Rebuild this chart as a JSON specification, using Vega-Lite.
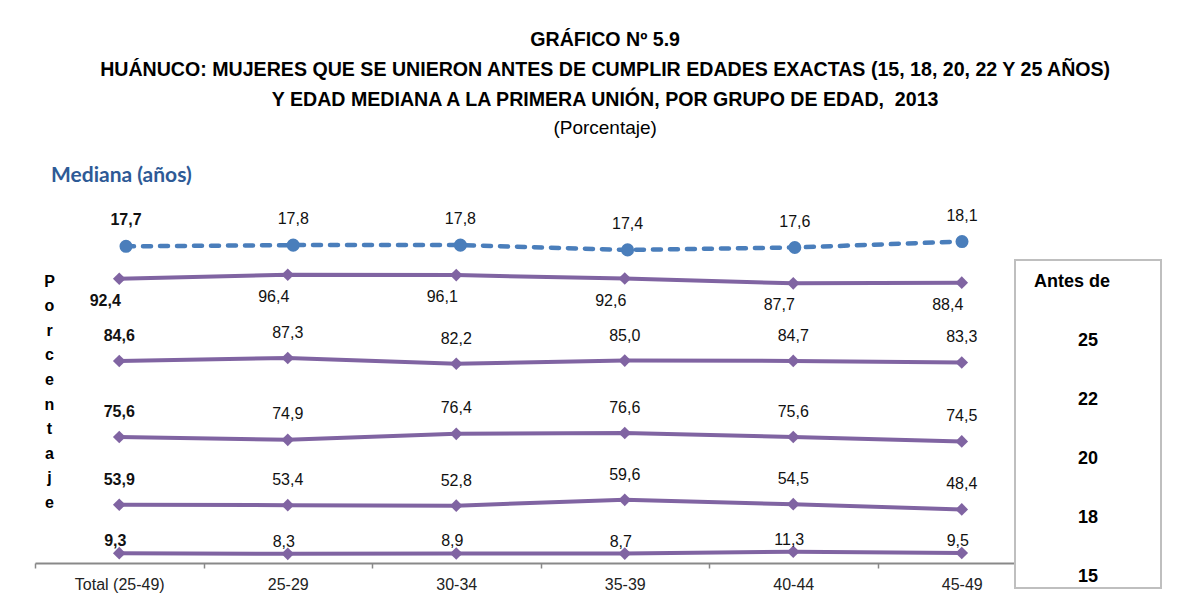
{
  "$schema": "https://vega.github.io/schema/vega-lite/v6.json",
  "background": "white",
  "padding": {"left": 34, "top": 30, "right": 10, "bottom": 10},
  "datasets": {
    "datos": [
      {"grupo": "Total (25-49)", "serie": "Mediana", "valor": 17.7},
      {"grupo": "25-29", "serie": "Mediana", "valor": 17.8},
      {"grupo": "30-34", "serie": "Mediana", "valor": 17.8},
      {"grupo": "35-39", "serie": "Mediana", "valor": 17.4},
      {"grupo": "40-44", "serie": "Mediana", "valor": 17.6},
      {"grupo": "45-49", "serie": "Mediana", "valor": 18.1},
      {"grupo": "Total (25-49)", "serie": "25", "valor": 92.4},
      {"grupo": "25-29", "serie": "25", "valor": 96.4},
      {"grupo": "30-34", "serie": "25", "valor": 96.1},
      {"grupo": "35-39", "serie": "25", "valor": 92.6},
      {"grupo": "40-44", "serie": "25", "valor": 87.7},
      {"grupo": "45-49", "serie": "25", "valor": 88.4},
      {"grupo": "Total (25-49)", "serie": "22", "valor": 84.6},
      {"grupo": "25-29", "serie": "22", "valor": 87.3},
      {"grupo": "30-34", "serie": "22", "valor": 82.2},
      {"grupo": "35-39", "serie": "22", "valor": 85.0},
      {"grupo": "40-44", "serie": "22", "valor": 84.7},
      {"grupo": "45-49", "serie": "22", "valor": 83.3},
      {"grupo": "Total (25-49)", "serie": "20", "valor": 75.6},
      {"grupo": "25-29", "serie": "20", "valor": 74.9},
      {"grupo": "30-34", "serie": "20", "valor": 76.4},
      {"grupo": "35-39", "serie": "20", "valor": 76.6},
      {"grupo": "40-44", "serie": "20", "valor": 75.6},
      {"grupo": "45-49", "serie": "20", "valor": 74.5},
      {"grupo": "Total (25-49)", "serie": "18", "valor": 53.9},
      {"grupo": "25-29", "serie": "18", "valor": 53.4},
      {"grupo": "30-34", "serie": "18", "valor": 52.8},
      {"grupo": "35-39", "serie": "18", "valor": 59.6},
      {"grupo": "40-44", "serie": "18", "valor": 54.5},
      {"grupo": "45-49", "serie": "18", "valor": 48.4},
      {"grupo": "Total (25-49)", "serie": "15", "valor": 9.3},
      {"grupo": "25-29", "serie": "15", "valor": 8.3},
      {"grupo": "30-34", "serie": "15", "valor": 8.9},
      {"grupo": "35-39", "serie": "15", "valor": 8.7},
      {"grupo": "40-44", "serie": "15", "valor": 11.3},
      {"grupo": "45-49", "serie": "15", "valor": 9.5}
    ],
    "leyenda": [
      {"etiqueta": "Antes de"},
      {"etiqueta": "25"},
      {"etiqueta": "22"},
      {"etiqueta": "20"},
      {"etiqueta": "18"},
      {"etiqueta": "15"}
    ]
  },
  "data": {"name": "datos"},
  "title": {
    "text": [
      "GRÁFICO Nº 5.9",
      "HUÁNUCO: MUJERES QUE SE UNIERON ANTES DE CUMPLIR EDADES EXACTAS (15, 18, 20, 22 Y 25 AÑOS)",
      "Y EDAD MEDIANA A LA PRIMERA UNIÓN, POR GRUPO DE EDAD, \u00a02013"
    ],
    "subtitle": "(Porcentaje)",
    "anchor": "middle",
    "dx": 7,
    "offset": 26,
    "font": "Liberation Sans, Arial, sans-serif",
    "fontSize": 19.6,
    "fontWeight": "bold",
    "lineHeight": 30,
    "color": "#000000",
    "subtitleFont": "Liberation Sans, Arial, sans-serif",
    "subtitleFontSize": 19,
    "subtitleFontWeight": "normal",
    "subtitleColor": "#000000",
    "subtitlePadding": 8
  },
  "spacing": 0,
  "bounds": "flush",
  "vconcat": [
    {
      "width": 980,
      "height": 60,
      "title": {
        "text": "Mediana (años)",
        "anchor": "start",
        "dx": 16,
        "offset": 14,
        "font": "Lato, Carlito, Calibri, sans-serif",
        "fontSize": 21,
        "fontWeight": "bold",
        "color": "#2e5a96"
      },
      "transform": [{"filter": "datum.serie === 'Mediana'"}],
      "encoding": {
        "x": {
          "field": "grupo",
          "type": "nominal",
          "scale": {"type": "point", "domain": ["Total (25-49)", "25-29", "30-34", "35-39", "40-44", "45-49"], "range": [91, 927], "padding": 0},
          "axis": null
        },
        "y": {
          "field": "valor",
          "type": "quantitative",
          "scale": {"domain": [16.55, 21.59], "zero": false, "nice": false},
          "axis": null
        }
      },
      "layer": [
        {
          "mark": {
            "type": "line",
            "color": "#4a7ebb",
            "strokeWidth": 4.5,
            "strokeDash": [8, 9],
            "strokeCap": "round",
            "point": {"shape": "circle", "filled": true, "size": 170, "color": "#4a7ebb", "opacity": 1}
          }
        },
        {
          "mark": {
            "type": "text",
            "dy": -26,
            "font": "Liberation Sans, Arial, sans-serif",
            "fontSize": 16,
            "color": "#111111",
            "fontWeight": {"expr": "datum.grupo === 'Total (25-49)' ? 'bold' : 'normal'"}
          },
          "encoding": {
            "text": {"field": "valor", "type": "quantitative", "format": ".1f"}
          }
        }
      ]
    },
    {
      "spacing": 0,
      "bounds": "flush",
      "hconcat": [
        {
          "width": 980,
          "height": 303,
          "encoding": {
            "x": {
              "field": "grupo",
              "type": "nominal",
              "scale": {"type": "band", "domain": ["Total (25-49)", "25-29", "30-34", "35-39", "40-44", "45-49"], "range": [0, 1011], "paddingInner": 0, "paddingOuter": 0},
              "axis": {
                "title": null,
                "tickBand": "extent",
                "labelAngle": 0,
                "grid": false,
                "domainColor": "#898989",
                "domainWidth": 2,
                "tickColor": "#898989",
                "tickWidth": 1.5,
                "tickSize": 5,
                "labelFont": "Liberation Sans, Arial, sans-serif",
                "labelFontSize": 16,
                "labelColor": "#222222",
                "labelPadding": 8
              }
            }
          },
          "resolve": {"scale": {"y": "independent"}},
          "layer": [
            {
              "transform": [{"filter": "datum.serie === '25'"}],
              "encoding": {
                "y": {
                  "field": "valor",
                  "type": "quantitative",
                  "scale": {"domain": [-197.7, 111.5], "zero": false, "nice": false},
                  "axis": {
                    "title": ["P", "o", "r", "c", "e", "n", "t", "a", "j", "e"],
                    "titleAngle": 0,
                    "titleX": 14,
                    "titleY": 21,
                    "titleAlign": "center",
                    "titleBaseline": "middle",
                    "titleFont": "Liberation Sans, Arial, sans-serif",
                    "titleFontSize": 16,
                    "titleFontWeight": "bold",
                    "titleLineHeight": 24.6,
                    "titleColor": "#000000",
                    "domain": false,
                    "ticks": false,
                    "labels": false,
                    "grid": false
                  }
                }
              },
              "layer": [
                {"mark": {"type": "line", "color": "#8064a2", "strokeWidth": 4, "point": {"shape": "diamond", "filled": true, "size": 160, "color": "#8064a2", "opacity": 1}}},
                {
                  "mark": {"type": "text", "dx": -14, "dy": 22, "font": "Liberation Sans, Arial, sans-serif", "fontSize": 16, "color": "#111111", "fontWeight": {"expr": "datum.grupo === 'Total (25-49)' ? 'bold' : 'normal'"}},
                  "encoding": {"text": {"field": "valor", "type": "quantitative", "format": ".1f"}}
                }
              ]
            },
            {
              "transform": [{"filter": "datum.serie === '22'"}],
              "encoding": {
                "y": {"field": "valor", "type": "quantitative", "scale": {"domain": [-95.7, 174.8], "zero": false, "nice": false}, "axis": null}
              },
              "layer": [
                {"mark": {"type": "line", "color": "#8064a2", "strokeWidth": 4, "point": {"shape": "diamond", "filled": true, "size": 160, "color": "#8064a2", "opacity": 1}}},
                {
                  "mark": {"type": "text", "dy": -25, "font": "Liberation Sans, Arial, sans-serif", "fontSize": 16, "color": "#111111", "fontWeight": {"expr": "datum.grupo === 'Total (25-49)' ? 'bold' : 'normal'"}},
                  "encoding": {"text": {"field": "valor", "type": "quantitative", "format": ".1f"}}
                }
              ]
            },
            {
              "transform": [{"filter": "datum.serie === '20'"}],
              "encoding": {
                "y": {"field": "valor", "type": "quantitative", "scale": {"domain": [44.11, 119.86], "zero": false, "nice": false}, "axis": null}
              },
              "layer": [
                {"mark": {"type": "line", "color": "#8064a2", "strokeWidth": 4, "point": {"shape": "diamond", "filled": true, "size": 160, "color": "#8064a2", "opacity": 1}}},
                {
                  "mark": {"type": "text", "dy": -25.5, "font": "Liberation Sans, Arial, sans-serif", "fontSize": 16, "color": "#111111", "fontWeight": {"expr": "datum.grupo === 'Total (25-49)' ? 'bold' : 'normal'"}},
                  "encoding": {"text": {"field": "valor", "type": "quantitative", "format": ".1f"}}
                }
              ]
            },
            {
              "transform": [{"filter": "datum.serie === '18'"}],
              "encoding": {
                "y": {"field": "valor", "type": "quantitative", "scale": {"domain": [-13.87, 338.4], "zero": false, "nice": false}, "axis": null}
              },
              "layer": [
                {"mark": {"type": "line", "color": "#8064a2", "strokeWidth": 4, "point": {"shape": "diamond", "filled": true, "size": 160, "color": "#8064a2", "opacity": 1}}},
                {
                  "mark": {"type": "text", "dy": -25, "font": "Liberation Sans, Arial, sans-serif", "fontSize": 16, "color": "#111111", "fontWeight": {"expr": "datum.grupo === 'Total (25-49)' ? 'bold' : 'normal'"}},
                  "encoding": {"text": {"field": "valor", "type": "quantitative", "format": ".1f"}}
                }
              ]
            },
            {
              "transform": [{"filter": "datum.serie === '15'"}],
              "encoding": {
                "y": {"field": "valor", "type": "quantitative", "scale": {"domain": [-4.74, 428.1], "zero": false, "nice": false}, "axis": null}
              },
              "layer": [
                {"mark": {"type": "line", "color": "#8064a2", "strokeWidth": 4, "point": {"shape": "diamond", "filled": true, "size": 160, "color": "#8064a2", "opacity": 1}}},
                {
                  "mark": {"type": "text", "dx": -4, "dy": -12, "font": "Liberation Sans, Arial, sans-serif", "fontSize": 16, "color": "#111111", "fontWeight": {"expr": "datum.grupo === 'Total (25-49)' ? 'bold' : 'normal'"}},
                  "encoding": {"text": {"field": "valor", "type": "quantitative", "format": ".1f"}}
                }
              ]
            }
          ]
        },
        {
          "width": 146,
          "height": 328,
          "data": {"name": "leyenda"},
          "view": {"stroke": "#bfbfbf", "strokeWidth": 2, "fill": "white"},
          "encoding": {
            "y": {
              "field": "etiqueta",
              "type": "nominal",
              "scale": {"type": "point", "domain": ["Antes de", "25", "22", "20", "18", "15"], "range": [22, 317], "padding": 0},
              "axis": null
            },
            "text": {"field": "etiqueta", "type": "nominal"}
          },
          "layer": [
            {
              "transform": [{"filter": "datum.etiqueta === 'Antes de'"}],
              "mark": {"type": "text", "dx": -16, "font": "Liberation Sans, Arial, sans-serif", "fontSize": 18, "fontWeight": "bold", "color": "#000000"}
            },
            {
              "transform": [{"filter": "datum.etiqueta !== 'Antes de'"}],
              "mark": {"type": "text", "font": "Liberation Sans, Arial, sans-serif", "fontSize": 18, "fontWeight": "bold", "color": "#000000"}
            }
          ]
        }
      ]
    }
  ],
  "config": {
    "view": {"stroke": null},
    "locale": {"number": {"decimal": ",", "thousands": ".", "grouping": [3], "currency": ["", ""]}}
  }
}
